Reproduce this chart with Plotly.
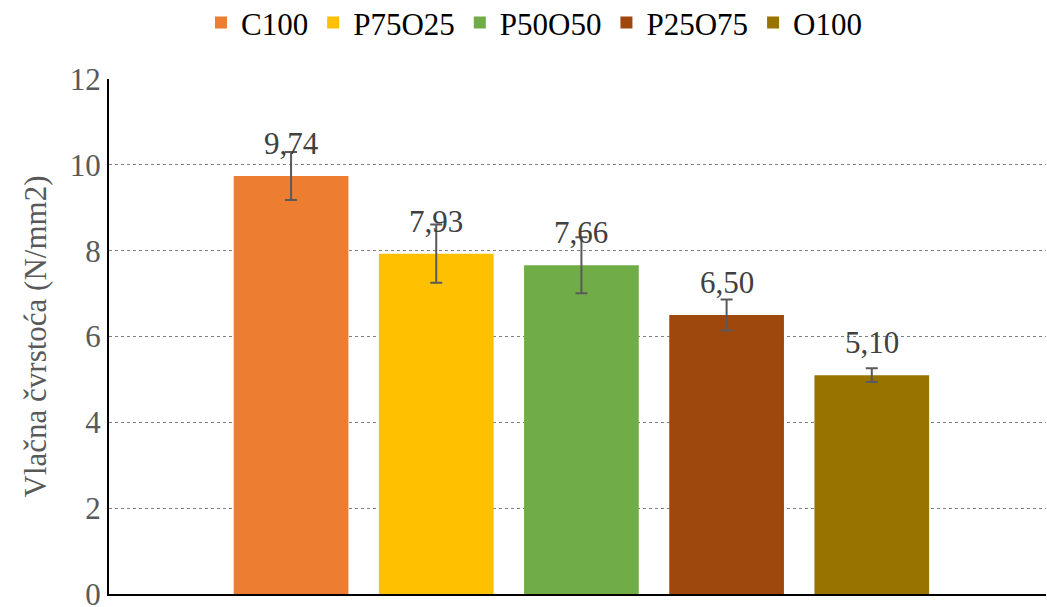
import plotly.graph_objects as go

# Data
samples = ["C100", "P75O25", "P50O50", "P25O75", "O100"]
strength = [9.74, 7.93, 7.66, 6.50, 5.10]
std_dev = [0.56, 0.68, 0.65, 0.36, 0.16]
colors = ["#ED7D31", "#FFC000", "#70AD47", "#9E480E", "#997300"]

FONT = "Liberation Serif"

fig = go.Figure()
for i, (name, val, err, col) in enumerate(zip(samples, strength, std_dev, colors)):
    fig.add_trace(go.Bar(
        x=[i], y=[val],
        name=name,
        width=0.79,
        marker=dict(color=col, line=dict(width=0)),
        error_y=dict(type="data", array=[err], color="#595959", thickness=2, width=6),
    ))
    fig.add_annotation(
        x=i, y=val, text=f"{val:.2f}".replace(".", ","),
        showarrow=False, yanchor="bottom", yshift=13,
        font=dict(family=FONT, size=31, color="#404040"),
    )

fig.update_layout(
    width=1047, height=607,
    barmode="overlay",
    plot_bgcolor="white",
    paper_bgcolor="white",
    margin=dict(l=109, r=1, t=79, b=13, autoexpand=False),
    font=dict(family=FONT, size=31, color="#595959"),
    showlegend=True,
    legend=dict(
        orientation="h", x=0.51, xanchor="center", xref="container",
        y=1.109, yanchor="middle", yref="paper",
        font=dict(family=FONT, size=31, color="black"),
        itemsizing="constant", tracegroupgap=0,
    ),
    xaxis=dict(
        range=[-1.254, 5.2], showticklabels=False, showgrid=False,
        showline=True, linecolor="black", linewidth=2, zeroline=False, ticks="",
        automargin=False,
    ),
    yaxis=dict(
        range=[0, 12], dtick=2, showgrid=True,
        gridcolor="#7f7f7f", griddash="dot", gridwidth=1,
        showline=True, linecolor="black", linewidth=2, zeroline=False,
        ticks="", tickfont=dict(family=FONT, size=31, color="#595959"),
        ticklabeloverflow="allow", automargin=False,
        title=dict(text="Vlačna čvrstoća (N/mm2)",
                   font=dict(family=FONT, size=31, color="#595959"), standoff=14),
    ),
)

fig.write_html(
    "out.html",
    config={"displayModeBar": False},
    post_script="document.body.style.margin='0px';",
)
